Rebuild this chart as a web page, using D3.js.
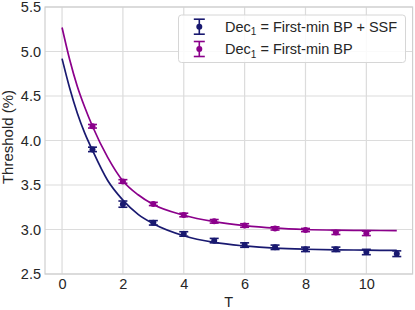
<!DOCTYPE html>
<html><head><meta charset="utf-8">
<script src="https://cdn.jsdelivr.net/npm/d3@7"></script>
<style>body{margin:0;background:#fff}svg{display:block}text{font-family:"Liberation Sans",Arial,sans-serif;fill:#262626}</style>
</head><body><svg id="c" width="415" height="310"></svg>
<script>
// data points
const T = [1,2,3,4,5,6,7,8,9,10,11];
const bpSsf = [3.90,3.285,3.075,2.95,2.875,2.825,2.80,2.777,2.777,2.747,2.728];
const bpSsfErr = [0.025,0.035,0.025,0.025,0.025,0.025,0.025,0.025,0.025,0.03,0.032];
const T2 = [1,2,3,4,5,6,7,8,9,10];
const bp = [4.16,3.54,3.287,3.163,3.092,3.045,3.012,2.994,2.966,2.957];
const bpErr = [0.02,0.02,0.018,0.02,0.02,0.02,0.018,0.018,0.022,0.025];
// fitted curves
const fitT = [0,0.25,0.5,0.75,1,1.5,2,2.5,3,4,5,6,7,8,9,10,11];
const fitBpSsf = [4.92,4.59,4.31,4.08,3.89,3.55,3.33,3.17,3.065,2.93,2.855,2.815,2.79,2.778,2.772,2.768,2.765];
const fitBp = [5.27,4.91,4.61,4.37,4.16,3.81,3.545,3.39,3.28,3.16,3.088,3.043,3.015,3.0,2.993,2.99,2.988];
const xTicks = [0,2,4,6,8,10];
const yTicks = [2.5,3.0,3.5,4.0,4.5,5.0,5.5];
const legendLabels = ["First-min BP + SSF","First-min BP"];
const colBlue = "#191970", colPurple = "#8b008b";

const svg = d3.select("#c");
const L=45, R=412.6, Tp=7, B=274;
const FS = "14.5px";
const x = d3.scaleLinear().domain([-0.56,11.52]).range([L,R]);
const y = d3.scaleLinear().domain([2.5,5.5]).range([B,Tp]);

// grid
const g = svg.append("g");
g.selectAll(".gx").data(xTicks).join("line").attr("x1",d=>x(d)).attr("x2",d=>x(d)).attr("y1",Tp).attr("y2",B).attr("stroke","#dcdcdc").attr("stroke-width",1.2);
g.selectAll(".gy").data(yTicks).join("line").attr("x1",L).attr("x2",R).attr("y1",d=>y(d)).attr("y2",d=>y(d)).attr("stroke","#dcdcdc").attr("stroke-width",1.2);
svg.append("rect").attr("x",L).attr("y",Tp).attr("width",R-L).attr("height",B-Tp).attr("fill","none").attr("stroke","#cfcfcf").attr("stroke-width",1.2);

// axes labels via d3 axes
const xa = svg.append("g").attr("transform",`translate(0,${B})`).call(d3.axisBottom(x).tickValues(xTicks).tickSize(0).tickPadding(5).tickFormat(d3.format("d")));
const ya = svg.append("g").attr("transform",`translate(${L},0)`).call(d3.axisLeft(y).tickValues(yTicks).tickSize(0).tickPadding(4).tickFormat(d3.format(".1f")));
[xa,ya].forEach(a=>{a.select(".domain").remove();a.attr("font-size",FS).attr("font-family","Liberation Sans, Arial, sans-serif");a.selectAll("text").attr("fill","#262626");});

svg.append("text").attr("x",(L+R)/2).attr("y",306.5).attr("text-anchor","middle").attr("font-size",FS).text("T");
svg.append("text").attr("transform",`translate(13,137) rotate(-90)`).attr("text-anchor","middle").attr("font-size","15px").text("Threshold (%)");

// curves
const line = d3.line().x(d=>x(d[0])).y(d=>y(d[1])).curve(d3.curveMonotoneX);
svg.append("path").attr("d",line(fitT.map((t,i)=>[t,fitBpSsf[i]]))).attr("fill","none").attr("stroke",colBlue).attr("stroke-width",1.7);
svg.append("path").attr("d",line(fitT.map((t,i)=>[t,fitBp[i]]))).attr("fill","none").attr("stroke",colPurple).attr("stroke-width",1.7);

function errs(ts,vals,es,col){
  const gg = svg.append("g");
  ts.forEach((t,i)=>{
    const cx=x(t), y1=y(vals[i]+es[i]), y2=y(vals[i]-es[i]);
    gg.append("line").attr("x1",cx).attr("x2",cx).attr("y1",y1).attr("y2",y2).attr("stroke",col).attr("stroke-width",1.6);
    gg.append("line").attr("x1",cx-4.5).attr("x2",cx+4.5).attr("y1",y1).attr("y2",y1).attr("stroke",col).attr("stroke-width",1.6);
    gg.append("line").attr("x1",cx-4.5).attr("x2",cx+4.5).attr("y1",y2).attr("y2",y2).attr("stroke",col).attr("stroke-width",1.6);
    gg.append("circle").attr("cx",cx).attr("cy",y(vals[i])).attr("r",3).attr("fill",col);
  });
}
errs(T,bpSsf,bpSsfErr,colBlue);
errs(T2,bp,bpErr,colPurple);

// legend
const lg = svg.append("g");
lg.append("rect").attr("x",178.5).attr("y",15).attr("width",227).attr("height",47.5).attr("rx",3).attr("fill","rgba(255,255,255,0.85)").attr("stroke","#d6d6d6").attr("stroke-width",1);
[colBlue,colPurple].forEach((col,i)=>{
  const cy = 26.7 + i*22.3, cx=199.3;
  lg.append("line").attr("x1",cx).attr("x2",cx).attr("y1",cy-7.5).attr("y2",cy+7.5).attr("stroke",col).attr("stroke-width",1.6);
  lg.append("line").attr("x1",cx-5.5).attr("x2",cx+5.5).attr("y1",cy-7.5).attr("y2",cy-7.5).attr("stroke",col).attr("stroke-width",1.6);
  lg.append("line").attr("x1",cx-5.5).attr("x2",cx+5.5).attr("y1",cy+7.5).attr("y2",cy+7.5).attr("stroke",col).attr("stroke-width",1.6);
  lg.append("circle").attr("cx",cx).attr("cy",cy).attr("r",3).attr("fill",col);
  const t = lg.append("text").attr("x",225).attr("y",cy+5).attr("font-size",FS);
  t.append("tspan").text("Dec");
  t.append("tspan").attr("font-size","10px").attr("dy",3.5).text("1");
  t.append("tspan").attr("dy",-3.5).text(" = "+legendLabels[i]);
});
</script></body></html>
